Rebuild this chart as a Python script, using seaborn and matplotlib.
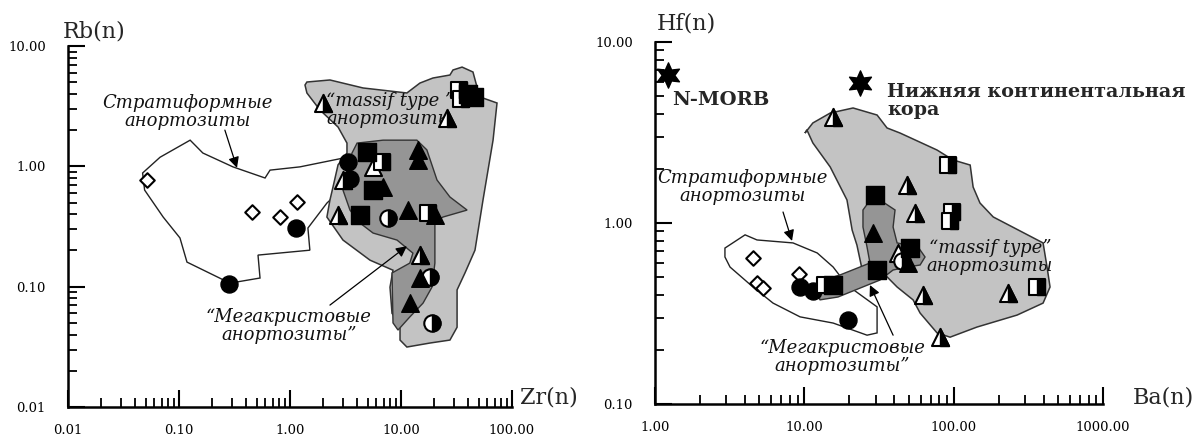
import numpy as np
import matplotlib
matplotlib.use("Agg")
import matplotlib.pyplot as plt
import seaborn as sns
from matplotlib.markers import MarkerStyle
from matplotlib.ticker import LogLocator, NullFormatter

sns.set_theme(style="white")
plt.rcParams['font.family'] = ['DejaVu Serif']

# ---------------- Left panel: Zr(n) vs Rb(n) ----------------
L_xticks = [0.01, 0.1, 1, 10, 100]
L_xlabels = ["0.01", "0.10", "1.00", "10.00", "100.00"]
L_yticks = [0.01, 0.1, 1, 10]
L_ylabels = ["0.01", "0.10", "1.00", "10.00"]

L_diam_x = [0.052, 0.455, 0.81, 1.16]
L_diam_y = [0.77, 0.417, 0.38, 0.505]
L_circ_x = [0.28, 1.13, 3.33, 3.5]
L_circ_y = [0.105, 0.307, 1.09, 0.78]
L_sq_x = [4.94, 5.6, 4.27, 40, 45]
L_sq_y = [1.31, 0.635, 0.394, 4.0, 3.8]
L_tri_x = [14.2, 14.2, 6.89, 11.6, 20.2, 14.8, 12.0]
L_tri_y = [1.37, 1.13, 0.673, 0.433, 0.394, 0.118, 0.073]
L_hsq_x = [6.74, 17.5, 33, 35]
L_hsq_y = [1.09, 0.41, 4.3, 3.6]
L_htri_x = [3.0, 2.71, 14.8, 1.98, 25.9]
L_htri_y = [0.77, 0.394, 0.183, 3.36, 2.52]
L_hcirc_x = [7.64, 18.2, 19.0]
L_hcirc_y = [0.372, 0.12, 0.050]
L_otri_x = [5.6]
L_otri_y = [0.99]

# outlined fields (data units)
L_strat_x = [0.047, 0.0675, 0.126, 0.164, 0.306, 0.596, 0.661, 1.23, 3.0, 3.2, 2.15,
             1.45, 1.51, 0.515, 0.537, 0.288, 0.118, 0.102, 0.072, 0.049]
L_strat_y = [0.88, 1.19, 1.65, 1.29, 0.99, 0.80, 0.93, 0.99, 1.17, 0.70, 0.495,
             0.307, 0.201, 0.183, 0.118, 0.107, 0.160, 0.254, 0.379, 0.635]
L_massif_x = [1.42, 2.29, 4.55, 11.3, 14.8, 19.4, 27.6, 29.4, 35.5, 44.5, 48.4, 51.5, 73.3,
              67.5, 54.8, 46.4, 37.7, 32, 32, 27.6, 18.2, 11.3, 9.8, 9.8, 8.3, 7.96, 8.47,
              5.26, 3.0, 2.15, 2.29, 2.44, 2.71, 3.26, 3.26, 2.71, 1.86, 1.42, 1.365]
L_massif_y = [5.02, 5.22, 4.48, 4.07, 4.92, 5.42, 5.74, 6.32, 6.68, 6.08, 4.56, 3.77, 3.36,
              1.65, 0.525, 0.201, 0.130, 0.094, 0.046, 0.036, 0.034, 0.0315, 0.036, 0.050,
              0.060, 0.099, 0.137, 0.166, 0.244, 0.379, 0.525, 0.673, 1.03, 1.29, 1.56,
              2.12, 2.94, 4.07, 4.74]
L_mega_x = [4.02, 6.89, 13.9, 17.1, 21.1, 27.6, 39.4, 23.9, 20.2, 20.2, 19.0, 15.8, 12.0,
            9.4, 8.47, 8.3, 12.0, 12.8, 9.2, 5.6, 4.27, 3.47, 3.0, 3.26, 3.62]
L_mega_y = [1.56, 1.65, 1.65, 1.37, 0.77, 0.556, 0.433, 0.379, 0.344, 0.157, 0.099, 0.073,
            0.056, 0.0436, 0.050, 0.130, 0.157, 0.19, 0.244, 0.279, 0.338, 0.433, 0.635,
            0.93, 1.29]

# ---------------- Right panel: Ba(n) vs Hf(n) ----------------
R_xticks = [1, 10, 100, 1000]
R_xlabels = ["1.00", "10.00", "100.00", "1000.00"]
R_yticks = [0.1, 1, 10]
R_ylabels = ["0.10", "1.00", "10.00"]

R_star_x = [1.22, 23.6]
R_star_y = [6.58, 5.93]
R_diam_x = [4.53, 4.8, 5.3, 9.2]
R_diam_y = [0.64, 0.467, 0.44, 0.52]
R_circ_x = [9.4, 11.4, 19.6]
R_circ_y = [0.443, 0.42, 0.29]
R_sq_x = [15.5, 29.8, 30.7, 51]
R_sq_y = [0.454, 1.43, 0.55, 0.73]
R_tri_x = [28.9, 49.6]
R_tri_y = [0.88, 0.60]
R_hsq_x = [13.7, 91.6, 97, 95, 360]
R_hsq_y = [0.454, 2.09, 1.15, 1.03, 0.443]
R_htri_x = [15.6, 48.7, 55, 62.4, 230, 81]
R_htri_y = [3.85, 1.62, 1.135, 0.40, 0.41, 0.234]
R_otri_x = [42.5]
R_otri_y = [0.68]
R_hcirc_x = [45]
R_hcirc_y = [0.62]

R_strat_x = [2.94, 4.01, 4.82, 8.4, 12.2, 15.6, 19.3, 30.7, 30.7, 26.3, 15.6, 9.36, 6.17,
             4.53, 3.18, 2.94]
R_strat_y = [0.727, 0.86, 0.806, 0.776, 0.683, 0.571, 0.454, 0.344, 0.247, 0.240, 0.28,
             0.303, 0.361, 0.443, 0.571, 0.649]
R_massif_x = [10.1, 11.4, 14.9, 21.2, 30.7, 35.8, 43.8, 77.4, 99, 129, 135, 150, 184, 397,
              422, 442, 397, 266, 143, 94.6, 77.4, 59.6, 53.5, 41.8, 35.8, 24.3, 22.5, 20.9,
              19.3, 14.9, 11.4, 10.4]
R_massif_y = [3.14, 3.57, 4.05, 4.32, 3.95, 3.35, 3.14, 2.53, 2.23, 2.09, 1.58, 1.29, 1.08,
              0.776, 0.571, 0.443, 0.361, 0.31, 0.266, 0.234, 0.247, 0.318, 0.376, 0.443,
              0.504, 0.56, 0.755, 0.914, 1.34, 2.04, 2.77, 3.27]
R_mega_x = [26.7, 32.1, 40.5, 39.3, 41.8, 57.8, 64.3, 59.6, 48.7, 39.3, 32.1, 16.8, 12.7,
            12.2, 17.3, 27.5, 26.3, 24.7, 24.7]
R_mega_y = [1.29, 1.34, 1.18, 0.95, 0.776, 0.736, 0.649, 0.586, 0.571, 0.55, 0.484, 0.39,
            0.376, 0.472, 0.516, 0.601, 0.736, 0.95, 1.18]

LIGHT = "#c3c3c3"
DARK = "#959595"

fig = plt.figure(figsize=(12.03, 4.36), dpi=100)
fig.patch.set_facecolor("white")
axL = fig.add_axes([68 / 1203, 1 - 407 / 436, 444 / 1203, 361 / 436])
axR = fig.add_axes([655 / 1203, 1 - 404 / 436, 448 / 1203, 362 / 436])


def setup(ax, xlim, ylim, xt, xl, yt, yl):
    ax.set_xscale("log")
    ax.set_yscale("log")
    ax.set_xlim(*xlim)
    ax.set_ylim(*ylim)
    ax.set_xticks(xt, labels=xl)
    ax.set_yticks(yt, labels=yl)
    for axis in (ax.xaxis, ax.yaxis):
        axis.set_minor_locator(LogLocator(base=10, subs=np.arange(2, 10)))
        axis.set_minor_formatter(NullFormatter())
    ax.tick_params(which="major", direction="in", length=12, width=1.5,
                   labelsize=9.5, color="black", labelcolor="black")
    ax.tick_params(which="minor", direction="in", length=6.5, width=1.3, color="black")
    ax.tick_params(axis="y", which="major", pad=16)
    ax.tick_params(axis="x", which="major", pad=12)
    ax.tick_params(left=True, bottom=True, which="both")
    for s in ("top", "right"):
        ax.spines[s].set_visible(False)
    for s in ("left", "bottom"):
        ax.spines[s].set_color("black")
        ax.spines[s].set_linewidth(1.8)
    ax.grid(False)
    ax.set_facecolor("white")


def fields(ax, sx, sy, mx, my, gx, gy):
    ax.fill(sx, sy, facecolor="white", edgecolor="#222222", lw=1.0, zorder=1)
    ax.fill(mx, my, facecolor=LIGHT, edgecolor="#333333", lw=1.1, zorder=2)
    ax.fill(gx, gy, facecolor=DARK, edgecolor="#333333", lw=1.0, zorder=3)


def filled(ax, x, y, m, s):
    sns.scatterplot(x=x, y=y, marker=m, s=s, color="black", edgecolor="black",
                    linewidth=1.0, ax=ax, zorder=6)


def opened(ax, x, y, m, s):
    sns.scatterplot(x=x, y=y, marker=m, s=s, color="white", edgecolor="black",
                    linewidth=1.5, ax=ax, zorder=6)


def half(ax, x, y, m, s):
    opened(ax, x, y, m, s)
    sns.scatterplot(x=x, y=y, marker=MarkerStyle(m, fillstyle="right"), s=s,
                    color="black", edgecolor="black", linewidth=1.0, ax=ax, zorder=6)


itext = dict(fontsize=13, style="italic", ha="center", va="center",
             multialignment="center", linespacing=1.0, zorder=5, color="#111111")
arrow = dict(arrowstyle="-|>", color="black", lw=0.9, mutation_scale=16,
             shrinkA=0, shrinkB=0)

# ---------------- Left ----------------
setup(axL, (0.01, 100), (0.01, 10), L_xticks, L_xlabels, L_yticks, L_ylabels)
fields(axL, L_strat_x, L_strat_y, L_massif_x, L_massif_y, L_mega_x, L_mega_y)
axL.text(0.12, 2.83, "Стратиформные\nанортозиты", **itext)
axL.text(7.96, 2.94, "“massif type ”\nанортозиты", **itext)
axL.text(0.98, 0.047, "“Мегакристовые\nанортозиты”", **itext)
axL.annotate("", xy=(0.333, 0.97), xytext=(0.259, 2.0), arrowprops=arrow, zorder=5)
axL.annotate("", xy=(11.3, 0.217), xytext=(2.29, 0.0703), arrowprops=arrow, zorder=5)

opened(axL, L_diam_x, L_diam_y, "D", 55)
filled(axL, L_circ_x, L_circ_y, "o", 150)
opened(axL, L_otri_x, L_otri_y, "^", 150)
half(axL, L_hsq_x, L_hsq_y, "s", 130)
half(axL, L_htri_x, L_htri_y, "^", 150)
half(axL, L_hcirc_x, L_hcirc_y, "o", 140)
filled(axL, L_sq_x, L_sq_y, "s", 150)
filled(axL, L_tri_x, L_tri_y, "^", 160)

axL.set_xlabel("Zr(n)", fontsize=16, ha="left", va="center")
axL.xaxis.set_label_coords(1.018, 0.025)
axL.set_ylabel("Rb(n)", fontsize=16, rotation=0, ha="center", va="center")
axL.yaxis.set_label_coords(0.058, 1.039)

# ---------------- Right ----------------
setup(axR, (1, 1000), (0.1, 10), R_xticks, R_xlabels, R_yticks, R_ylabels)
fields(axR, R_strat_x, R_strat_y, R_massif_x, R_massif_y, R_mega_x, R_mega_y)
axR.text(3.88, 1.58, "Стратиформные\nанортозиты", **itext)
axR.text(175, 0.649, "“massif type”\nанортозиты", **itext)
axR.text(17.9, 0.182, "“Мегакристовые\nанортозиты”", **itext)
axR.annotate("", xy=(8.27, 0.796), xytext=(7.2, 1.15), arrowprops=arrow, zorder=5)
axR.annotate("", xy=(27.5, 0.454), xytext=(39.3, 0.240), arrowprops=arrow, zorder=5)
axR.text(1.30, 4.78, "N-MORB", fontsize=14, fontweight="bold", ha="left", va="center")
axR.text(35.8, 4.72, "Нижняя континентальная\nкора", fontsize=13.8, fontweight="bold",
         ha="left", va="center", multialignment="left", linespacing=1.0)

filled(axR, R_star_x, R_star_y, (6, 1, 0), 330)
opened(axR, R_diam_x, R_diam_y, "D", 55)
filled(axR, R_circ_x, R_circ_y, "o", 150)
opened(axR, R_otri_x, R_otri_y, "^", 150)
half(axR, R_hsq_x, R_hsq_y, "s", 130)
half(axR, R_htri_x, R_htri_y, "^", 150)
half(axR, R_hcirc_x, R_hcirc_y, "o", 140)
filled(axR, R_sq_x, R_sq_y, "s", 150)
filled(axR, R_tri_x, R_tri_y, "^", 160)

axR.set_xlabel("Ba(n)", fontsize=16, ha="left", va="center")
axR.xaxis.set_label_coords(1.067, 0.019)
axR.set_ylabel("Hf(n)", fontsize=16, rotation=0, ha="center", va="center")
axR.yaxis.set_label_coords(0.069, 1.052)

fig.savefig("out.png", dpi=100, facecolor="white")
